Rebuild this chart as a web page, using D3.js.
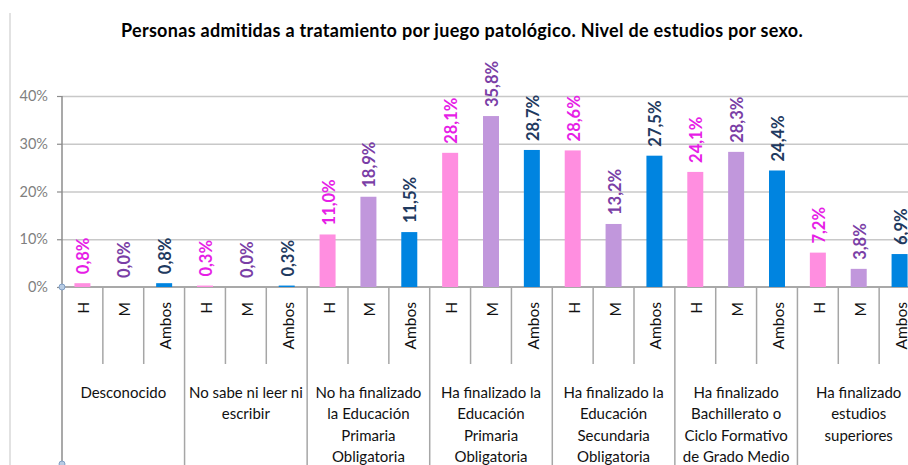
<!DOCTYPE html>
<html lang="es">
<head>
<meta charset="utf-8">
<script src="https://cdn.jsdelivr.net/npm/d3@7"></script>
<style>
  html, body { margin: 0; padding: 0; background: #fff; }
  svg { display: block; font-family: Lato, "Noto Sans", sans-serif; }
</style>
</head>
<body>
<svg id="chart" width="908" height="465"></svg>
<script>
// Education level of people admitted to treatment for pathological gambling, by sex (%)
const categories = [
  "Desconocido",
  "No sabe ni leer ni\nescribir",
  "No ha finalizado\nla Educación\nPrimaria\nObligatoria",
  "Ha finalizado la\nEducación\nPrimaria\nObligatoria",
  "Ha finalizado la\nEducación\nSecundaria\nObligatoria",
  "Ha finalizado\nBachillerato o\nCiclo Formativo\nde Grado Medio",
  "Ha finalizado\nestudios\nsuperiores"
];
const seriesNames = ["H", "M", "Ambos"];
const valuesH     = [0.8, 0.3, 11.0, 28.1, 28.6, 24.1, 7.2];
const valuesM     = [0.0, 0.0, 18.9, 35.8, 13.2, 28.3, 3.8];
const valuesAmbos = [0.8, 0.3, 11.5, 28.7, 27.5, 24.4, 6.9];
const yTicks = [0, 10, 20, 30, 40];
const title = "Personas admitidas a tratamiento por juego patológico. Nivel de estudios por sexo.";

const barColors   = { H: "#ff8ee0", M: "#c197dc", Ambos: "#0084e0" };
const labelColors = { H: "#e61ee6", M: "#7a3ea6", Ambos: "#1f3a5f" };

const seriesValues = { H: valuesH, M: valuesM, Ambos: valuesAmbos };
const rows = categories.flatMap((c, i) =>
  seriesNames.map(s => ({ cat: c, series: s, value: seriesValues[s][i] })));

const svg = d3.select("#chart");
const W = 908, H = 465;
const plotLeft = 62, plotRight = 920, plotTop = 96, plotBottom = 287;

const locale = d3.formatLocale({ decimal: ",", thousands: ".", grouping: [3], currency: ["", "€"] });
const fmtValue = v => locale.format(".1f")(v) + "%";

const x0 = d3.scaleBand().domain(categories).range([plotLeft, plotRight]).paddingInner(0).paddingOuter(0);
const x1 = d3.scaleBand().domain(seriesNames).range([0, x0.bandwidth()]);
const y = d3.scaleLinear().domain([0, 40]).range([plotBottom, plotTop]);

// outer frame edge
svg.append("line").attr("x1", 10).attr("x2", 10).attr("y1", 13).attr("y2", H)
  .attr("stroke", "#d9d9d9").attr("stroke-width", 1.5);

// title
svg.append("text").attr("x", 462).attr("y", 37).attr("text-anchor", "middle")
  .attr("font-size", 18).attr("letter-spacing", 0.3)
  .attr("font-weight", 700).attr("fill", "#000").text(title);

// gridlines
const grid = svg.append("g").attr("transform", `translate(${plotLeft},0)`)
  .call(d3.axisLeft(y).tickValues(yTicks.slice(1)).tickSize(-(W - plotLeft)).tickFormat(""));
grid.select(".domain").remove();
grid.selectAll("line").attr("stroke", "#c8c8c8").attr("stroke-width", 1.5);

// y axis
const yAxis = svg.append("g").attr("transform", `translate(${plotLeft},0)`)
  .call(d3.axisLeft(y).tickValues(yTicks).tickSize(5).tickPadding(9).tickFormat(d => d + "%"));
yAxis.select(".domain").remove();
yAxis.selectAll("line").attr("stroke", "#8c8c8c").attr("stroke-width", 1.2);
yAxis.selectAll("text").attr("font-size", 14.5).attr("fill", "#7f7f7f")
  .attr("font-family", "Lato, sans-serif");

// y axis line extends through the category area
svg.append("line").attr("x1", plotLeft).attr("x2", plotLeft).attr("y1", plotTop).attr("y2", H - 2)
  .attr("stroke", "#8c8c8c").attr("stroke-width", 1.5);

// baseline
svg.append("line").attr("x1", plotLeft).attr("x2", W).attr("y1", y(0)).attr("y2", y(0))
  .attr("stroke", "#8c8c8c").attr("stroke-width", 1.5);

// category separators (full height) and series separators (short)
const catEdges = categories.map(c => x0(c)).slice(1).concat([plotRight]);
svg.append("g").selectAll("line").data(catEdges).join("line")
  .attr("x1", d => d).attr("x2", d => d).attr("y1", y(0)).attr("y2", H)
  .attr("stroke", "#a6a6a6").attr("stroke-width", 1.5);
const slotEdges = categories.flatMap(c => seriesNames.slice(1).map(s => x0(c) + x1(s)));
svg.append("g").selectAll("line").data(slotEdges).join("line")
  .attr("x1", d => d).attr("x2", d => d).attr("y1", y(0)).attr("y2", 364)
  .attr("stroke", "#a6a6a6").attr("stroke-width", 1.5);

// bars
const barW = 16;
const cx = d => x0(d.cat) + x1(d.series) + x1.bandwidth() / 2;
svg.append("g").selectAll("rect").data(rows).join("rect")
  .attr("x", d => cx(d) - barW / 2)
  .attr("y", d => y(d.value))
  .attr("width", barW)
  .attr("height", d => y(0) - y(d.value))
  .attr("fill", d => barColors[d.series]);

// value labels
svg.append("g").selectAll("text").data(rows).join("text")
  .attr("transform", d => `translate(${cx(d) + 7},${y(d.value) - 9}) rotate(-90)`)
  .attr("font-size", 16.5).attr("font-weight", 700)
  .attr("fill", d => labelColors[d.series])
  .text(d => fmtValue(d.value));

// series labels under each bar
svg.append("g").selectAll("text").data(rows).join("text")
  .attr("transform", d => `translate(${cx(d) + 7},302) rotate(-90)`)
  .attr("text-anchor", "end").attr("font-size", 15.5).attr("fill", "#111")
  .text(d => d.series);

// category labels
const catLabels = svg.append("g").selectAll("text").data(categories).join("text")
  .attr("x", d => x0(d) + x0.bandwidth() / 2)
  .attr("y", 398)
  .attr("text-anchor", "middle").attr("font-size", 15).attr("fill", "#111");
catLabels.each(function(d) {
  const t = d3.select(this);
  d.split("\n").forEach((line, i) => {
    t.append("tspan").attr("x", x0(d) + x0.bandwidth() / 2)
      .attr("dy", i === 0 ? 0 : 21.3).text(line);
  });
});

// axis end markers
[[plotLeft, y(0)], [plotLeft, H - 1]].forEach(([mx, my]) => {
  svg.append("circle").attr("cx", mx).attr("cy", my).attr("r", 3)
    .attr("fill", "#b8cce4").attr("stroke", "#7f9fc6").attr("stroke-width", 1);
});
</script>
</body>
</html>
